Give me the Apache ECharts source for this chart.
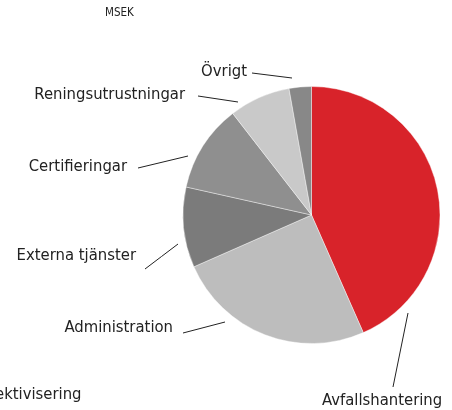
<!DOCTYPE html>
<html>
<head>
<meta charset="utf-8">
<script src="https://cdn.jsdelivr.net/npm/echarts@6/dist/echarts.min.js"></script>
<style>
  html, body { margin: 0; padding: 0; background: #fff; }
  #chart { width: 452px; height: 410px; }
</style>
</head>
<body>
<div id="chart"></div>
<script>
// kostnader per område (MSEK)
var categories = ['Avfallshantering', 'Administration', 'Externa tjänster', 'Certifieringar', 'Reningsutrustningar', 'Övrigt'];
var values = [43.4, 25.0, 10.1, 11.0, 7.7, 2.8];
var colors = ['#d8232a', '#bdbdbd', '#7b7b7b', '#8f8f8f', '#c9c9c9', '#888888'];

// var etikett och linje ligger (text x, text y, align, linje start, linje slut)
var labelPlace = [
    { x: 322, y: 401, align: 'left',  line: [[393, 387], [408, 313]] },
    { x: 173, y: 328, align: 'right', line: [[183, 333], [225, 322]] },
    { x: 136, y: 256, align: 'right', line: [[145, 269], [178, 244]] },
    { x: 127, y: 167, align: 'right', line: [[138, 168], [188, 156]] },
    { x: 185, y: 95,  align: 'right', line: [[198, 96], [238, 102]] },
    { x: 247, y: 72,  align: 'right', line: [[252, 73], [292, 78]] }
];

var font = '"Liberation Sans Narrow", "DejaVu Sans Condensed", Roboto, sans-serif';

var chart = echarts.init(document.getElementById('chart'));
chart.setOption({
    animation: false,
    color: colors,
    graphic: [
        {
            type: 'text', left: 105, top: 7,
            style: { text: 'MSEK', fontSize: 11.5, fontFamily: font, fill: '#222' }
        },
        {
            type: 'text', left: -5, top: 386,
            style: { text: 'ektivisering', fontSize: 16.5, fontFamily: font, fill: '#222' }
        }
    ],
    series: [
        {
            type: 'pie',
            center: [311.5, 215],
            radius: 128.5,
            startAngle: 90,
            clockwise: true,
            itemStyle: { borderColor: '#fff', borderWidth: 0.4 },
            label: {
                show: true,
                color: '#222',
                fontSize: 16.5,
                fontFamily: font,
                width: 200,
                overflow: 'none'
            },
            labelLine: {
                show: true,
                lineStyle: { color: '#222', width: 1 }
            },
            labelLayout: function (params) {
                var p = labelPlace[params.dataIndex];
                var a = p.line[0], b = p.line[1];
                return {
                    x: p.x,
                    y: p.y,
                    align: p.align,
                    verticalAlign: 'middle',
                    labelLinePoints: [b, [(a[0] + b[0]) / 2, (a[1] + b[1]) / 2], a]
                };
            },
            data: categories.map(function (c, i) {
                return { name: c, value: values[i] };
            })
        }
    ]
});
</script>
</body>
</html>
